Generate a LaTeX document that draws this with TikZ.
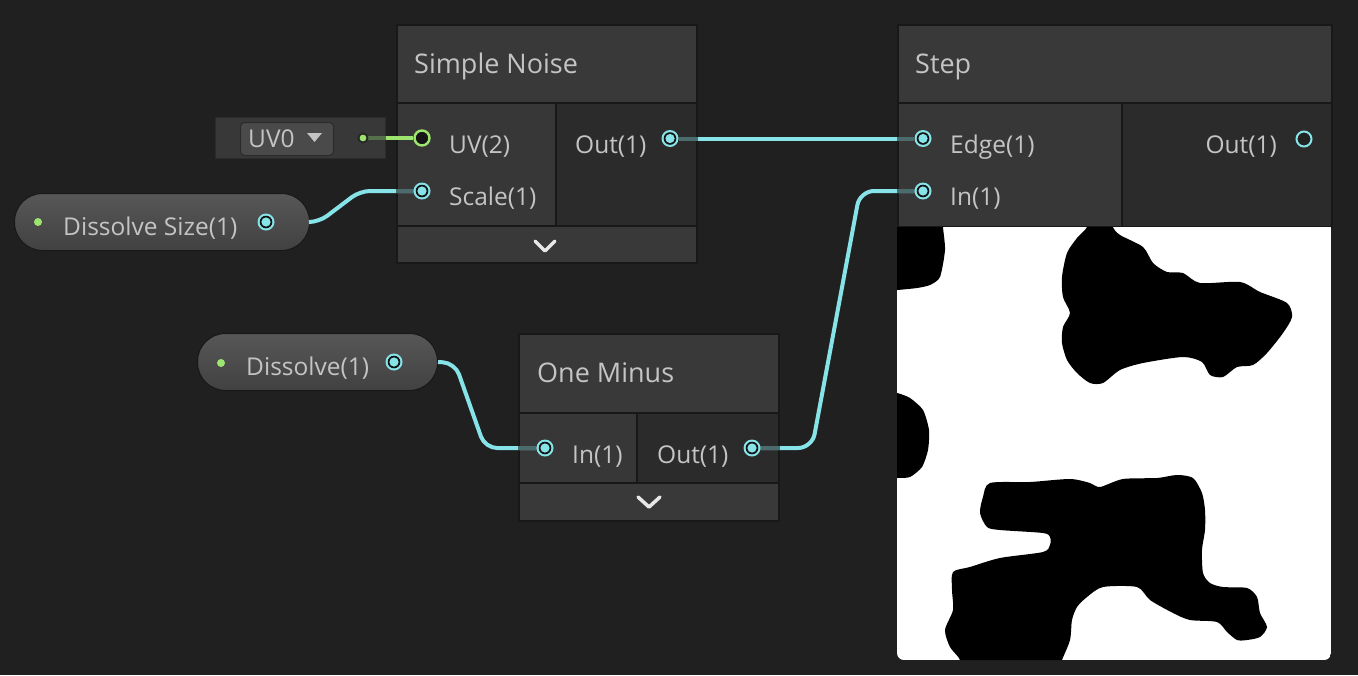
\documentclass[tikz,border=0pt]{standalone}
\usepackage{fontspec}
\setmainfont{Open Sans}
\usetikzlibrary{positioning,calc}
\pgfdeclarelayer{front}
\pgfsetlayers{main,front}
\definecolor{bg}{HTML}{202020}
\definecolor{hdr}{HTML}{393939}
\definecolor{inp}{HTML}{373737}
\definecolor{outp}{HTML}{2B2B2B}
\definecolor{edgec}{HTML}{181818}
\definecolor{txt}{HTML}{C4C4C4}
\definecolor{chevc}{HTML}{E8E8E8}
\definecolor{cyan1}{HTML}{86E3E8}
\definecolor{cyandim}{HTML}{4B6B6D}
\definecolor{grn}{HTML}{9EE56F}
\definecolor{grndim}{HTML}{56704B}
\definecolor{pilltop}{HTML}{575757}
\definecolor{pillbot}{HTML}{414141}
\definecolor{uvfill}{HTML}{383838}
\definecolor{ddfill}{HTML}{4A4A4A}

\begin{document}
\begin{tikzpicture}[x=1pt,y=-1pt,
  box/.style={draw=edgec,line width=1.5pt,inner sep=0pt,anchor=north west},
  pill/.style={draw=edgec,line width=1pt,rounded corners=28pt,top color=pilltop,bottom color=pillbot,inner sep=0pt,anchor=north west},
  lbl/.style={text=txt,font=\fontsize{24.5}{29}\selectfont,inner sep=0pt,anchor=base west},
  ttl/.style={text=txt,font=\fontsize{27}{32}\selectfont,inner sep=0pt,anchor=base west},
  port/.style={circle,minimum size=17pt,inner sep=0pt,fill=cyan1,path picture={\fill[bg!60!black] (path picture bounding box.center) circle (6.3pt); \fill[cyan1] (path picture bounding box.center) circle (4.6pt);}},
  openport/.style={circle,minimum size=15pt,inner sep=0pt,draw=cyan1,line width=2pt,fill=outp!80!black},
  gport/.style={circle,minimum size=15pt,inner sep=0pt,draw=grn,line width=2.4pt,fill=bg!70!black},
  gdot/.style={circle,minimum size=9pt,inner sep=0pt,fill=grn},
  wire/.style={draw=cyan1,line width=4pt},
  stub/.style={draw=cyandim,line width=4pt},
  chev/.style={draw=chevc,line width=3.5pt,line cap=round,line join=round}]
\fill[bg] (0,0) rectangle (1358,675);
\useasboundingbox (0,0) rectangle (1358,675);

% simple noise
\fill[hdr] (396,24) rectangle (696,103);
\fill[inp] (396,103) rectangle (556,226);
\fill[outp] (556,103) rectangle (696,226);
\fill[hdr] (396,226) rectangle (696,262);
\draw[edgec,line width=1.5pt] (396,103) -- (696,103) (396,226) -- (696,226) (556,103) -- (556,226);
\node (sn) [box,minimum width=300,minimum height=238] at (396,24) {};
\node (snt) [ttl] at (414,73) {Simple Noise};
\node (uvt) [lbl] at (449,153) {UV(2)};
\node (sclt) [lbl] at (449,205) {Scale(1)};
\node (snot) [lbl] at (575,153) {Out(1)};
\draw[chev] (535,241) -- (545,251) -- (555,241);

% one minus
\fill[hdr] (518,333) rectangle (778,413);
\fill[inp] (518,413) rectangle (637,483);
\fill[outp] (637,413) rectangle (778,483);
\fill[hdr] (518,483) rectangle (778,520);
\draw[edgec,line width=1.5pt] (518,413) -- (778,413) (518,483) -- (778,483) (637,413) -- (637,483);
\node (om) [box,minimum width=260,minimum height=187] at (518,333) {};
\node (omt) [ttl] at (537,382) {One Minus};
\node (omit) [lbl] at (572,463) {In(1)};
\node (omot) [lbl] at (657,463) {Out(1)};
\draw[chev] (638,497) -- (649,507) -- (660,497);

% step
\fill[hdr] (897,24) rectangle (1331,103);
\fill[inp] (897,103) rectangle (1122,226);
\fill[outp] (1122,103) rectangle (1331,226);
\draw[edgec,line width=1.5pt] (897,103) -- (1331,103) (1122,103) -- (1122,226);
\node (st) [box,minimum width=434,minimum height=202] at (897,24) {};
\node (stt) [ttl] at (915,73) {Step};
\node (edgt) [lbl] at (950,153) {Edge(1)};
\node (stit) [lbl] at (950,205) {In(1)};
\node (stot) [lbl,anchor=base east] at (1277,153) {Out(1)};

% preview
\begin{scope}
\clip (897,227) rectangle (1331,675);
\clip[rounded corners=7pt] (897,200) rectangle (1331,660);
\fill[white] (897,227) rectangle (1331,660);
\fill[black] plot[smooth cycle,tension=0.4] coordinates {(885,215) (943,215) (943,227) (945,250) (940,277) (930,285) (917,288) (897,290) (885,290)};
\fill[black] plot[smooth cycle,tension=0.4] coordinates {(885,393) (897,393) (910,398) (923,410) (929,430) (928,450) (922,467) (910,477) (897,478) (885,478)};
\fill[black] plot[smooth cycle,tension=0.45] coordinates {(1087,215) (1113,215) (1113,227) (1120,235) (1143,247) (1153,263) (1167,272) (1183,273) (1200,283) (1240,282) (1260,292) (1287,303) (1292,317) (1283,333) (1267,353) (1253,365) (1237,367) (1223,377) (1210,375) (1202,362) (1183,357) (1143,363) (1120,370) (1103,383) (1090,383) (1077,373) (1067,360) (1062,343) (1063,327) (1070,313) (1063,297) (1062,277) (1067,253) (1077,238) (1087,227)};
\fill[black] plot[smooth cycle,tension=0.45] coordinates {(990,483) (1030,482) (1070,479) (1090,483) (1100,487) (1123,479) (1157,478) (1177,475) (1193,478) (1202,493) (1205,510) (1205,530) (1202,550) (1203,573) (1210,583) (1223,587) (1247,588) (1257,597) (1260,613) (1267,627) (1260,637) (1247,640) (1237,640) (1227,632) (1217,622) (1190,620) (1173,613) (1150,600) (1137,587) (1103,587) (1087,597) (1077,607) (1072,620) (1070,640) (1062,660) (1057,675) (958,675) (960,660) (950,647) (945,630) (953,610) (952,590) (953,572) (970,567) (1000,558) (1043,552) (1050,545) (1050,537) (1043,533) (1000,530) (987,527) (980,513) (983,497)};
\end{scope}

% uv0 slot
\node (uvb) [draw=outp,fill=uvfill,line width=1pt,inner sep=0pt,anchor=north west,minimum width=170,minimum height=41] at (215,117) {};
\node (uvdd) [draw=outp,fill=ddfill,line width=1pt,rounded corners=4pt,inner sep=0pt,anchor=north west,minimum width=93,minimum height=33] at (240,122) {};
\node (uvl) [lbl] at (248,147) {UV0};
\fill[txt] (307,133) -- (322,133) -- (314.5,142) -- cycle;

% properties
\node (dsz) [pill,minimum width=295,minimum height=57] at (14,193) {};
\node (dszd) [gdot,minimum size=8pt] at (38,222) {};
\node (dszt) [lbl] at (63,235) {Dissolve Size(1)};
\node (dsv) [pill,minimum width=240,minimum height=57] at (197,333) {};
\node (dsvd) [gdot,minimum size=8pt] at (221,363) {};
\node (dsvt) [lbl] at (246,375) {Dissolve(1)};

% ports
\begin{pgfonlayer}{front}
\node (dszp) [port] at (266,222) {};
\node (dsvp) [port] at (394,362) {};
\node (uvd) [gdot,draw=black!85,line width=1.8pt] at (363,138) {};
\node (uvp) [gport] at (422,138) {};
\node (scl) [port] at (422,191) {};
\node (snout) [port] at (670,138.5) {};
\node (omin) [port] at (545,448) {};
\node (omout) [port] at (752,448) {};
\node (edg) [port] at (923,138.5) {};
\node (stin) [port] at (923,191) {};
\node (stout) [openport] at (1304,139) {};
\end{pgfonlayer}

% wires
\draw[draw=grn,line width=4.5pt] (uvd) -- (uvp);
\draw[draw=grndim,line width=4.5pt] (uvd) -- (uvb.east |- uvd);
\draw[wire] (snout) -- (edg);
\draw[wire,rounded corners=10pt] (dsz.east) -- (319,222) -- (360,191) -- (scl);
\draw[wire,rounded corners=12pt] (dsv.east) -- (455,363) -- (485,448) -- (omin);
\draw[wire,rounded corners=14pt] (omout) -- (812,448) -- (860,191) -- (stin);
\draw[stub] (snout) -- (sn.east |- snout);
\draw[stub] (st.west |- edg) -- (edg);
\draw[stub] (st.west |- stin) -- (stin);
\draw[stub] (sn.west |- scl) -- (scl);
\draw[stub] (om.west |- omin) -- (omin);
\draw[stub] (omout) -- (om.east |- omout);
\end{tikzpicture}
\end{document}
